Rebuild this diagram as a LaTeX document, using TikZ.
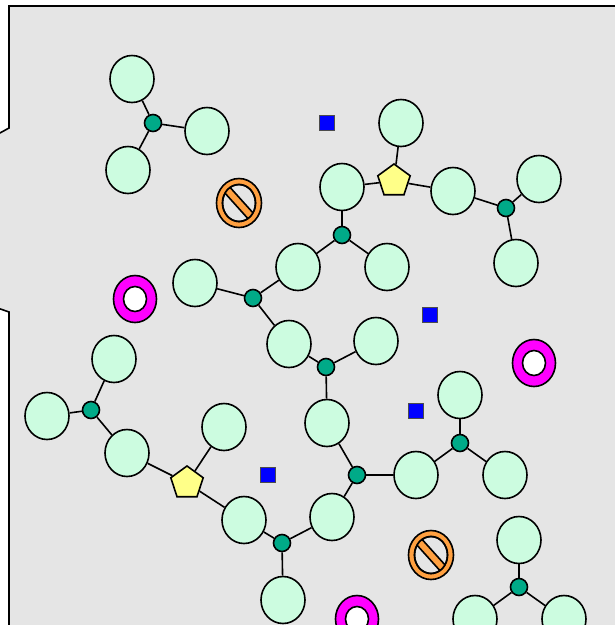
\documentclass[tikz,border=0pt]{standalone}
\usetikzlibrary{shapes.geometric}
\definecolor{bgray}{HTML}{E5E5E5}
\definecolor{mint}{HTML}{CCFCE0}
\definecolor{hubc}{HTML}{00AA88}
\definecolor{pent}{HTML}{FFFF88}
\definecolor{ringc}{HTML}{FF00FF}
\definecolor{orng}{HTML}{FFA040}
\tikzset{
  lw/.style={line width=1.6pt},
  leaf/.style={ellipse, lw, draw=black, fill=mint, minimum width=44pt, minimum height=47pt, inner sep=0pt},
  hub/.style={circle, lw, draw=black, fill=hubc, minimum size=17pt, inner sep=0pt},
  pentnode/.style={regular polygon, regular polygon sides=5, lw, draw=black, fill=pent, minimum size=34pt, inner sep=0pt},
  sq/.style={rectangle, lw, draw=black!70, fill=blue, minimum size=15pt, inner sep=0pt},
  ringout/.style={ellipse, lw, draw=black, fill=ringc, minimum width=43pt, minimum height=47pt, inner sep=0pt},
  ringin/.style={ellipse, lw, draw=black, fill=white, minimum width=23pt, minimum height=25pt, inner sep=0pt},
  link/.style={lw, draw=black},
}
\newcommand{\prohib}[2]{%
  \begin{scope}[shift={(#1)}]
    \filldraw[lw, fill=orng] (0,0) ellipse [x radius=22.5, y radius=24.5];
    \filldraw[lw, fill=bgray] (0,0) ellipse [x radius=16.5, y radius=18.5];
    \begin{scope}
      \clip (0,0) ellipse [x radius=16.5, y radius=18.5];
      \filldraw[lw, fill=orng, rotate=-48] (-30,-3.8) rectangle (30,3.8);
    \end{scope}
    \draw[lw] (0,0) ellipse [x radius=16.5, y radius=18.5];
    \coordinate (#2) at (0,0);
  \end{scope}}
\begin{document}
\begin{tikzpicture}[x=1pt,y=-1pt]
\useasboundingbox (0,0) rectangle (615,625);
\fill[bgray] (616,6) -- (9,6) -- (9,128) -- (0,133) -- (0,309) -- (9,312) -- (9,626) -- (616,626) -- cycle;
\draw[lw] (616,6) -- (9,6) -- (9,128) -- (-1,133.5);
\draw[lw] (-1,308.5) -- (9,312) -- (9,626);

% hubs and pentagons
\node[hub] (hA) at (153,123) {};
\node[hub] (hB) at (506,208) {};
\node[hub] (hC) at (342,235) {};
\node[hub] (hD) at (253,298) {};
\node[hub] (hE) at (326,367) {};
\node[hub] (hF) at (91,410) {};
\node[hub] (hG) at (357,475) {};
\node[hub] (hH) at (460,443) {};
\node[hub] (hI) at (282,543) {};
\node[hub] (hJ) at (519,587) {};
\node[pentnode] (p1) at (394,181) {};
\node[pentnode] (p2) at (187,483) {};

% leaves
\node[leaf] (c1) at (132,79) {};
\node[leaf] (c2) at (207,131) {};
\node[leaf] (c3) at (128,170) {};
\node[leaf] (c4) at (401,123) {};
\node[leaf] (c5) at (342,187) {};
\node[leaf] (c6) at (453,191) {};
\node[leaf] (c7) at (539,179) {};
\node[leaf] (c8) at (516,263) {};
\node[leaf] (c9) at (298,267) {};
\node[leaf] (c10) at (387,267) {};
\node[leaf] (c11) at (195,283) {};
\node[leaf] (c12) at (289,344) {};
\node[leaf] (c13) at (376,341) {};
\node[leaf] (c14) at (114,359) {};
\node[leaf] (c15) at (47,416) {};
\node[leaf] (c16) at (127,453) {};
\node[leaf] (c17) at (224,427) {};
\node[leaf] (c18) at (327,423) {};
\node[leaf] (c19) at (416,475) {};
\node[leaf] (c20) at (460,395) {};
\node[leaf] (c21) at (505,475) {};
\node[leaf] (c22) at (244,520) {};
\node[leaf] (c23) at (332,517) {};
\node[leaf] (c24) at (283,600) {};
\node[leaf] (c25) at (519,540) {};
\node[leaf] (c26) at (475,619) {};
\node[leaf] (c27) at (564,619) {};

% connectors
\draw[link] (hA) -- (c1); \draw[link] (hA) -- (c2); \draw[link] (hA) -- (c3);
\draw[link] (p1) -- (c4); \draw[link] (p1) -- (c5); \draw[link] (p1) -- (c6);
\draw[link] (hB) -- (c6); \draw[link] (hB) -- (c7); \draw[link] (hB) -- (c8);
\draw[link] (hC) -- (c5); \draw[link] (hC) -- (c9); \draw[link] (hC) -- (c10);
\draw[link] (hD) -- (c9); \draw[link] (hD) -- (c11); \draw[link] (hD) -- (c12);
\draw[link] (hE) -- (c12); \draw[link] (hE) -- (c13); \draw[link] (hE) -- (c18);
\draw[link] (hF) -- (c14); \draw[link] (hF) -- (c15); \draw[link] (hF) -- (c16);
\draw[link] (p2) -- (c16); \draw[link] (p2) -- (c17); \draw[link] (p2) -- (c22);
\draw[link] (hG) -- (c18); \draw[link] (hG) -- (c19); \draw[link] (hG) -- (c23);
\draw[link] (hH) -- (c19); \draw[link] (hH) -- (c20); \draw[link] (hH) -- (c21);
\draw[link] (hI) -- (c22); \draw[link] (hI) -- (c23); \draw[link] (hI) -- (c24);
\draw[link] (hJ) -- (c25); \draw[link] (hJ) -- (c26); \draw[link] (hJ) -- (c27);

% squares
\node[sq] (s1) at (327,123) {};
\node[sq] (s2) at (430,315) {};
\node[sq] (s3) at (416,411) {};
\node[sq] (s4) at (268,475) {};

% rings
\node[ringout] (r1) at (135,299) {};
\node[ringin] (r1i) at (r1) {};
\node[ringout] (r2) at (534,363) {};
\node[ringin] (r2i) at (r2) {};
\node[ringout] (r3) at (357,619) {};
\node[ringin] (r3i) at (r3) {};

% prohibition signs
\prohib{239,203}{x1}
\prohib{431,555}{x2}
\end{tikzpicture}
\end{document}
